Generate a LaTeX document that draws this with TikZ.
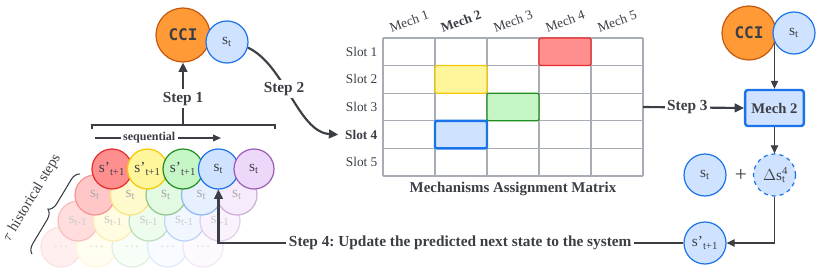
\documentclass[tikz,border=0pt]{standalone}
\usepackage{fontspec}
\setmainfont{Liberation Serif}
\setmonofont{DejaVu Sans Mono}
\usetikzlibrary{arrows.meta,positioning,calc,decorations.pathreplacing,backgrounds}
\frenchspacing

\definecolor{ink}{HTML}{3B3F45}
\definecolor{gridc}{HTML}{A8ACB4}
\definecolor{oraF}{HTML}{FF9A36}
\definecolor{oraD}{HTML}{C4580E}
\definecolor{redF}{HTML}{FF8F8F}
\definecolor{redD}{HTML}{E8292B}
\definecolor{yelF}{HTML}{FFF59A}
\definecolor{yelD}{HTML}{F5C800}
\definecolor{grnF}{HTML}{C6F6C6}
\definecolor{grnD}{HTML}{1E8F1E}
\definecolor{bluF}{HTML}{CFE2FF}
\definecolor{bluD}{HTML}{1A73E8}
\definecolor{purF}{HTML}{EED8FA}
\definecolor{purD}{HTML}{9B5CB4}

\begin{document}
\begin{tikzpicture}[
    x=0.75pt, y=-0.75pt,
    circ/.style={circle, draw, line width=0.9pt, minimum size=30pt, inner sep=0pt, font=\fontsize{11.5}{12}\selectfont, text=ink},
    bigcirc/.style={circle, draw=oraD, fill=oraF, line width=0.9pt, minimum size=40.5pt, inner sep=0pt, font=\ttfamily\bfseries\fontsize{12}{12}\selectfont, text=ink},
    stepl/.style={fill=white, inner sep=2pt, font=\bfseries\fontsize{11.5}{12}\selectfont, text=ink},
    slotl/.style={anchor=east, inner sep=1pt, font=\fontsize{9.5}{11}\selectfont, text=ink},
    cellbox/.style={rounded corners=1.5pt, line width=0.9pt},
    arr/.style={-{Triangle[length=7pt,width=6.5pt]}, line width=1.6pt, ink},
    thinarr/.style={-{Triangle[length=6pt,width=5.5pt]}, line width=0.8pt, ink}
]
\useasboundingbox (0,0) rectangle (821,271);

% history of states, faded rows behind
\foreach \k/\p/\tc/\lbl in {3/14/black!12/\dots, 2/30/black!20/s\textsubscript{t-1}, 1/50/black!33/s\textsubscript{t}}{
  \foreach \c [count=\i from 0] in {red,yel,grn,blu,pur}{
    \node[circ, fill=\c F!\p!white, draw=\c D!\p!white, text=\tc] (h\k\i) at (112+35.5*\i-17*\k, 169+26*\k) {\lbl};
  }
}
\foreach \c/\lbl [count=\i from 0] in {red/s'\textsubscript{t+1}, yel/s'\textsubscript{t+1}, grn/s'\textsubscript{t+1}, blu/s\textsubscript{t}, pur/s\textsubscript{t}}{
  \node[circ, fill=\c F, draw=\c D] (f\i) at (112+35.5*\i, 169) {\lbl};
}

% bracket and sequential arrow
\coordinate (brL) at (92,129);
\coordinate (brR) at (275,129);
\coordinate (brM) at (183,125);
\draw[ink, line width=1pt] (brL) |- (brM) -| (brR);
\coordinate (seqL) at (95,138);
\coordinate (seqR) at (221,138);
\draw[-{Triangle[length=6pt,width=5pt]}, line width=1.2pt, ink] (seqL) -- node[pos=0.43, fill=white, inner sep=2pt, font=\bfseries\fontsize{9}{10}\selectfont, text=ink] (seqtxt) {sequential} (seqR);

% historical brace
\coordinate (bB) at (32,254);
\coordinate (bT) at (80,174);
\draw[ink, line width=0.8pt, decorate, decoration={brace, amplitude=7pt}] (bB) -- (bT);
\node[rotate=59, font=\fontsize{11}{12}\selectfont, text=ink] (hist) at (32,198) {$\tau$ historical steps};

% predictor with current state
\node[bigcirc] (cci1) at (183,35) {CCI};
\node[circ, fill=bluF, draw=bluD, minimum size=31.5pt] (st1) at (227,42) {s\textsubscript{t}};
\draw[arr] (brM) -- node[stepl, pos=0.42] (step1) {Step 1} (cci1.south);

% assignment matrix
\foreach \i in {0,...,5}
  \draw[gridc, line width=0.9pt] (383+52*\i,38) -- (383+52*\i,176);
\foreach \j in {0,...,5}
  \draw[gridc, line width=0.9pt] (383,38+27.6*\j) -- (643,38+27.6*\j);
\draw[cellbox, draw=redD, fill=redF] (539,38) rectangle (591,65.6);
\draw[cellbox, draw=yelD, fill=yelF] (435,65.6) rectangle (487,93.2);
\draw[cellbox, draw=grnD, fill=grnF] (487,93.2) rectangle (539,120.8);
\draw[cellbox, draw=bluD, fill=bluF, line width=1.8pt] (435,120.8) rectangle (487,148.4);
\foreach \j/\f in {1/,2/,3/,4/\bfseries,5/}
  \node[slotl, font=\f] (slot\j) at (379,24.2+27.6*\j) {Slot \j};
\foreach \i/\f in {1/,2/\bfseries,3/,4/,5/}
  \node[rotate=20, font=\fontsize{10}{11}\selectfont\f, text=ink] (col\i) at (357+52*\i,21) {Mech \i};
\node[font=\bfseries\fontsize{11.2}{12}\selectfont, text=ink] (mtitle) at (513,189) {Mechanisms Assignment Matrix};

\draw[arr] (st1.-15) .. controls (285,65) and (298,132) .. ([xshift=-4pt]slot4.west);
\node[stepl] (step2) at (284,89) {Step 2};

% selected mechanism applied
\node[bigcirc] (cci2) at (749,33) {CCI};
\node[circ, fill=bluF, draw=bluD, minimum size=31.5pt] (st2) at (794,33) {s\textsubscript{t}};
\node[draw=bluD, fill=bluF, line width=1.8pt, rounded corners=2pt, minimum width=44pt, minimum height=27pt, font=\bfseries\fontsize{11}{12}\selectfont, text=ink] (mech) at (774.5,108) {Mech 2};
\begin{scope}[on background layer]
\draw[thinarr] (mech.north |- cci2) -- (mech.north);
\end{scope}
\coordinate (m3e) at (643,107);
\draw[arr] (m3e) -- node[stepl, pos=0.44] (step3) {Step 3} (mech.west);

\node[circ, fill=bluF, draw=bluD, minimum size=31.5pt, dashed] (dels) at (774.5,175) {$\Delta$s\rlap{\textsuperscript{4}}\textsubscript{t}};
\node[circ, fill=bluF, draw=bluD, minimum size=31.5pt] (st3) at (705,175) {s\textsubscript{t}};
\node[font=\fontsize{16}{16}\selectfont, text=ink] (plus) at (741,175) {+};
\node[circ, fill=bluF, draw=bluD, minimum size=31.5pt] (snext) at (705,243) {s'\textsubscript{t+1}};

\draw[thinarr] (mech.south) -- (dels.north);
\draw[thinarr] (dels.south) |- (snext.east);
\draw[arr] (snext.west) -| node[stepl, pos=0.24] (step4) {Step 4: Update the predicted next state to the system} (f3.south);
\end{tikzpicture}
\end{document}
